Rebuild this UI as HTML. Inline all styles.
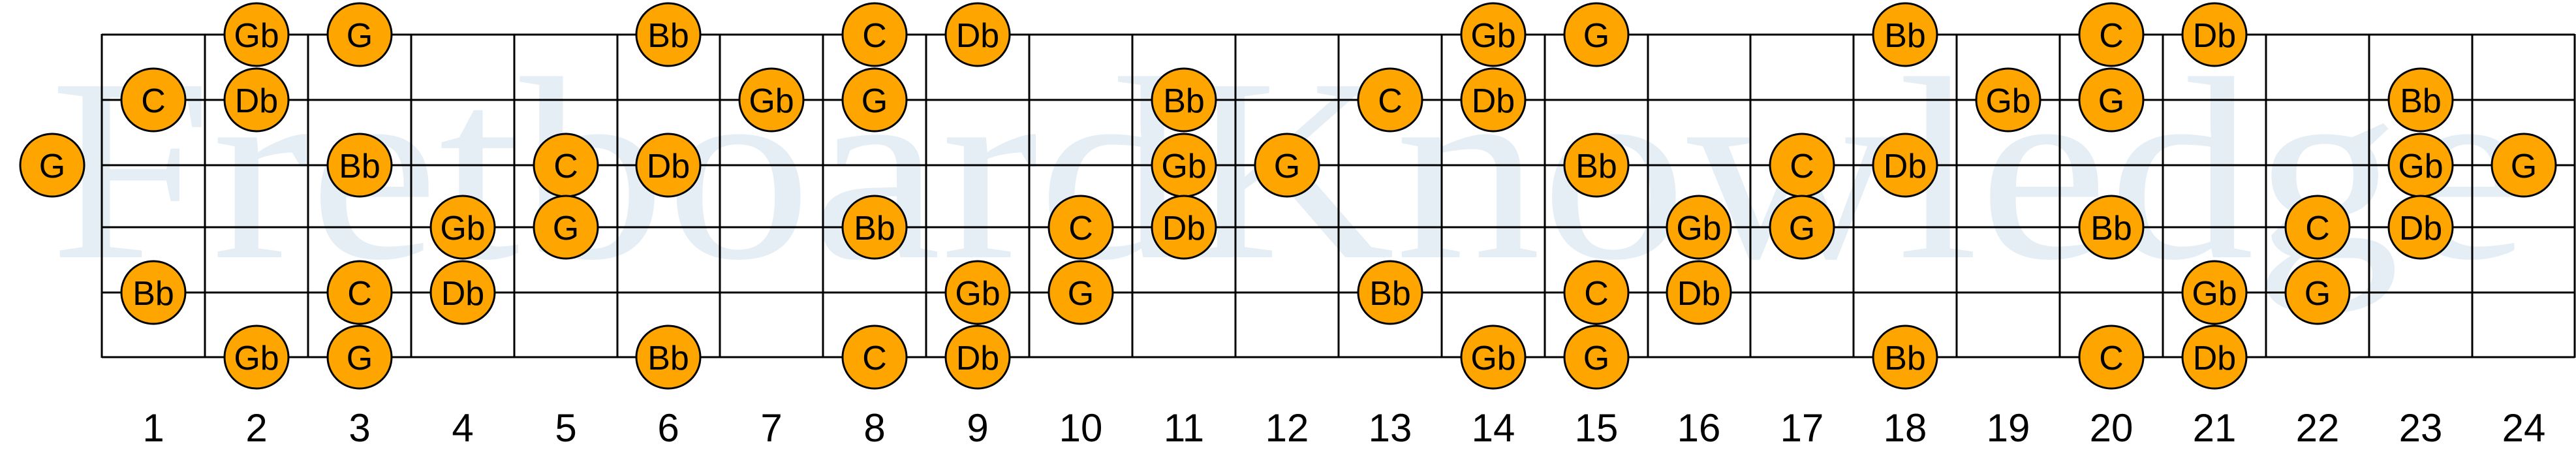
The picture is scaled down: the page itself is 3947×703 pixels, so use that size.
<!DOCTYPE html>
<html><head><meta charset="utf-8"><style>
html,body{margin:0;padding:0;background:#fff;}
svg{display:block;}
.n ellipse{fill:#FFA500;stroke:#000;stroke-width:3;}
.n text{font-family:"Liberation Sans",sans-serif;font-size:52px;text-anchor:middle;fill:#000;}
.num{font-family:"Liberation Sans",sans-serif;font-size:60px;text-anchor:middle;fill:#000;}
</style></head><body>
<svg width="3947" height="703" viewBox="0 0 3947 703" xmlns="http://www.w3.org/2000/svg">
<rect width="3947" height="703" fill="#fff"/>
<text x="76" y="394" font-family="Liberation Serif,serif" font-size="400" fill="#e5eef5" textLength="3800" lengthAdjust="spacingAndGlyphs">FretboardKnowledge</text>
<g stroke="#000" stroke-width="3" fill="none">
<line x1="156" y1="53" x2="3945" y2="53"/>
<line x1="156" y1="153" x2="3945" y2="153"/>
<line x1="156" y1="253" x2="3945" y2="253"/>
<line x1="156" y1="348" x2="3945" y2="348"/>
<line x1="156" y1="448" x2="3945" y2="448"/>
<line x1="156" y1="547" x2="3945" y2="547"/>
<line x1="156" y1="52" x2="156" y2="548"/><line x1="314" y1="52" x2="314" y2="548"/><line x1="472" y1="52" x2="472" y2="548"/><line x1="630" y1="52" x2="630" y2="548"/><line x1="788" y1="52" x2="788" y2="548"/><line x1="946" y1="52" x2="946" y2="548"/><line x1="1103" y1="52" x2="1103" y2="548"/><line x1="1261" y1="52" x2="1261" y2="548"/><line x1="1419" y1="52" x2="1419" y2="548"/><line x1="1577" y1="52" x2="1577" y2="548"/><line x1="1735" y1="52" x2="1735" y2="548"/><line x1="1893" y1="52" x2="1893" y2="548"/><line x1="2051" y1="52" x2="2051" y2="548"/><line x1="2209" y1="52" x2="2209" y2="548"/><line x1="2367" y1="52" x2="2367" y2="548"/><line x1="2525" y1="52" x2="2525" y2="548"/><line x1="2682" y1="52" x2="2682" y2="548"/><line x1="2840" y1="52" x2="2840" y2="548"/><line x1="2998" y1="52" x2="2998" y2="548"/><line x1="3156" y1="52" x2="3156" y2="548"/><line x1="3314" y1="52" x2="3314" y2="548"/><line x1="3472" y1="52" x2="3472" y2="548"/><line x1="3630" y1="52" x2="3630" y2="548"/><line x1="3788" y1="52" x2="3788" y2="548"/><line x1="3945" y1="52" x2="3945" y2="548"/>
</g>
<g class="n">
<!-- string 1 y=53 -->
<ellipse cx="393" cy="53" rx="49" ry="48"/><text x="393" y="72">Gb</text>
<ellipse cx="551" cy="53" rx="49" ry="48"/><text x="551" y="72">G</text>
<ellipse cx="1024" cy="53" rx="49" ry="48"/><text x="1024" y="72">Bb</text>
<ellipse cx="1340" cy="53" rx="49" ry="48"/><text x="1340" y="72">C</text>
<ellipse cx="1498" cy="53" rx="49" ry="48"/><text x="1498" y="72">Db</text>
<ellipse cx="2288" cy="53" rx="49" ry="48"/><text x="2288" y="72">Gb</text>
<ellipse cx="2446" cy="53" rx="49" ry="48"/><text x="2446" y="72">G</text>
<ellipse cx="2919" cy="53" rx="49" ry="48"/><text x="2919" y="72">Bb</text>
<ellipse cx="3235" cy="53" rx="49" ry="48"/><text x="3235" y="72">C</text>
<ellipse cx="3393" cy="53" rx="49" ry="48"/><text x="3393" y="72">Db</text>
<!-- string 2 y=153 -->
<ellipse cx="235" cy="153" rx="49" ry="48"/><text x="235" y="172">C</text>
<ellipse cx="393" cy="153" rx="49" ry="48"/><text x="393" y="172">Db</text>
<ellipse cx="1182" cy="153" rx="49" ry="48"/><text x="1182" y="172">Gb</text>
<ellipse cx="1340" cy="153" rx="49" ry="48"/><text x="1340" y="172">G</text>
<ellipse cx="1814" cy="153" rx="49" ry="48"/><text x="1814" y="172">Bb</text>
<ellipse cx="2130" cy="153" rx="49" ry="48"/><text x="2130" y="172">C</text>
<ellipse cx="2288" cy="153" rx="49" ry="48"/><text x="2288" y="172">Db</text>
<ellipse cx="3077" cy="153" rx="49" ry="48"/><text x="3077" y="172">Gb</text>
<ellipse cx="3235" cy="153" rx="49" ry="48"/><text x="3235" y="172">G</text>
<ellipse cx="3709" cy="153" rx="49" ry="48"/><text x="3709" y="172">Bb</text>
<!-- string 3 y=253 -->
<ellipse cx="80" cy="253" rx="49" ry="48"/><text x="80" y="272">G</text>
<ellipse cx="551" cy="253" rx="49" ry="48"/><text x="551" y="272">Bb</text>
<ellipse cx="867" cy="253" rx="49" ry="48"/><text x="867" y="272">C</text>
<ellipse cx="1024" cy="253" rx="49" ry="48"/><text x="1024" y="272">Db</text>
<ellipse cx="1814" cy="253" rx="49" ry="48"/><text x="1814" y="272">Gb</text>
<ellipse cx="1972" cy="253" rx="49" ry="48"/><text x="1972" y="272">G</text>
<ellipse cx="2446" cy="253" rx="49" ry="48"/><text x="2446" y="272">Bb</text>
<ellipse cx="2761" cy="253" rx="49" ry="48"/><text x="2761" y="272">C</text>
<ellipse cx="2919" cy="253" rx="49" ry="48"/><text x="2919" y="272">Db</text>
<ellipse cx="3709" cy="253" rx="49" ry="48"/><text x="3709" y="272">Gb</text>
<ellipse cx="3867" cy="253" rx="49" ry="48"/><text x="3867" y="272">G</text>
<!-- string 4 y=348 -->
<ellipse cx="709" cy="348" rx="49" ry="48"/><text x="709" y="367">Gb</text>
<ellipse cx="867" cy="348" rx="49" ry="48"/><text x="867" y="367">G</text>
<ellipse cx="1340" cy="348" rx="49" ry="48"/><text x="1340" y="367">Bb</text>
<ellipse cx="1656" cy="348" rx="49" ry="48"/><text x="1656" y="367">C</text>
<ellipse cx="1814" cy="348" rx="49" ry="48"/><text x="1814" y="367">Db</text>
<ellipse cx="2603" cy="348" rx="49" ry="48"/><text x="2603" y="367">Gb</text>
<ellipse cx="2761" cy="348" rx="49" ry="48"/><text x="2761" y="367">G</text>
<ellipse cx="3235" cy="348" rx="49" ry="48"/><text x="3235" y="367">Bb</text>
<ellipse cx="3551" cy="348" rx="49" ry="48"/><text x="3551" y="367">C</text>
<ellipse cx="3709" cy="348" rx="49" ry="48"/><text x="3709" y="367">Db</text>
<!-- string 5 y=448 -->
<ellipse cx="235" cy="448" rx="49" ry="48"/><text x="235" y="467">Bb</text>
<ellipse cx="551" cy="448" rx="49" ry="48"/><text x="551" y="467">C</text>
<ellipse cx="709" cy="448" rx="49" ry="48"/><text x="709" y="467">Db</text>
<ellipse cx="1498" cy="448" rx="49" ry="48"/><text x="1498" y="467">Gb</text>
<ellipse cx="1656" cy="448" rx="49" ry="48"/><text x="1656" y="467">G</text>
<ellipse cx="2130" cy="448" rx="49" ry="48"/><text x="2130" y="467">Bb</text>
<ellipse cx="2446" cy="448" rx="49" ry="48"/><text x="2446" y="467">C</text>
<ellipse cx="2603" cy="448" rx="49" ry="48"/><text x="2603" y="467">Db</text>
<ellipse cx="3393" cy="448" rx="49" ry="48"/><text x="3393" y="467">Gb</text>
<ellipse cx="3551" cy="448" rx="49" ry="48"/><text x="3551" y="467">G</text>
<!-- string 6 y=547 -->
<ellipse cx="393" cy="547" rx="49" ry="48"/><text x="393" y="566">Gb</text>
<ellipse cx="551" cy="547" rx="49" ry="48"/><text x="551" y="566">G</text>
<ellipse cx="1024" cy="547" rx="49" ry="48"/><text x="1024" y="566">Bb</text>
<ellipse cx="1340" cy="547" rx="49" ry="48"/><text x="1340" y="566">C</text>
<ellipse cx="1498" cy="547" rx="49" ry="48"/><text x="1498" y="566">Db</text>
<ellipse cx="2288" cy="547" rx="49" ry="48"/><text x="2288" y="566">Gb</text>
<ellipse cx="2446" cy="547" rx="49" ry="48"/><text x="2446" y="566">G</text>
<ellipse cx="2919" cy="547" rx="49" ry="48"/><text x="2919" y="566">Bb</text>
<ellipse cx="3235" cy="547" rx="49" ry="48"/><text x="3235" y="566">C</text>
<ellipse cx="3393" cy="547" rx="49" ry="48"/><text x="3393" y="566">Db</text>
</g>
<g class="num">
<text x="235" y="676">1</text><text x="393" y="676">2</text><text x="551" y="676">3</text><text x="709" y="676">4</text><text x="867" y="676">5</text><text x="1024" y="676">6</text><text x="1182" y="676">7</text><text x="1340" y="676">8</text><text x="1498" y="676">9</text><text x="1656" y="676">10</text><text x="1814" y="676">11</text><text x="1972" y="676">12</text><text x="2130" y="676">13</text><text x="2288" y="676">14</text><text x="2446" y="676">15</text><text x="2603" y="676">16</text><text x="2761" y="676">17</text><text x="2919" y="676">18</text><text x="3077" y="676">19</text><text x="3235" y="676">20</text><text x="3393" y="676">21</text><text x="3551" y="676">22</text><text x="3709" y="676">23</text><text x="3867" y="676">24</text>
</g>
</svg>
</body></html>
